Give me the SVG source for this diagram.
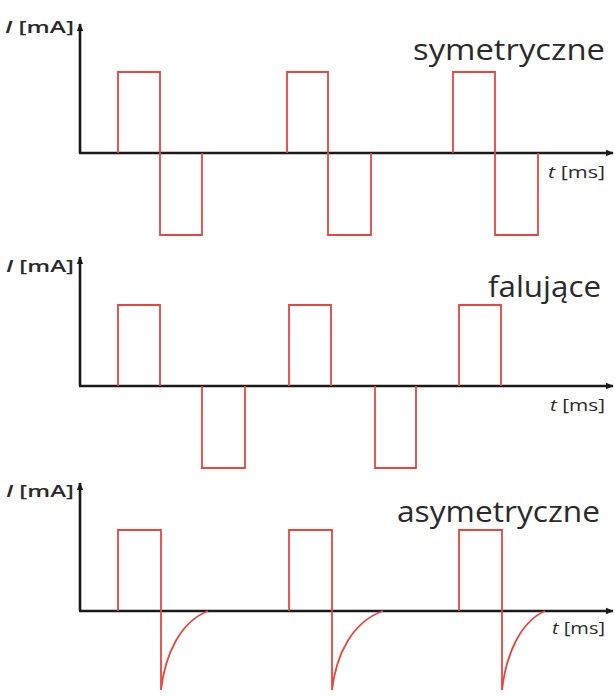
<svg xmlns="http://www.w3.org/2000/svg" width="615" height="697" viewBox="0 0 615 697">
<style>
.ax{stroke:#1a1a1a;stroke-width:2.6;fill:none}
.sig{stroke:#e8463e;stroke-width:1.8;fill:none;stroke-linejoin:miter}
.lbl{font-family:"Open Sans","DejaVu Sans",sans-serif;fill:#2a2a2a}
.title{font-size:29px}
.unit{font-size:17px}
.ya{font-size:17px;font-weight:600}
</style>
<defs>
<marker id="ah" viewBox="0 0 10 10" refX="9" refY="5" markerWidth="3.2" markerHeight="3.2" orient="auto" markerUnits="strokeWidth">
<path d="M0,1 L10,5 L0,9 z" fill="#1a1a1a"/>
</marker>
</defs>
<rect width="615" height="697" fill="#ffffff"/>

<g id="panel-symetryczne">
<g id="axes1">
<path class="ax" d="M80,153 V24" marker-end="url(#ah)"/>
<path class="ax" d="M79,153 H613" marker-end="url(#ah)"/>
</g>
<g id="signal1">
<path class="sig" d="M118,153 V72 H160 V235 H202 V153"/>
<path class="sig" d="M287,153 V72 H328 V235 H371 V153"/>
<path class="sig" d="M453,153 V72 H495 V235 H538 V153"/>
</g>
<text class="lbl ya" x="5" y="33" textLength="69" lengthAdjust="spacingAndGlyphs"><tspan font-style="italic">I</tspan> [mA]</text>
<text class="lbl title" x="413" y="60" textLength="192" lengthAdjust="spacingAndGlyphs">symetryczne</text>
<text class="lbl unit" x="548" y="178" textLength="57" lengthAdjust="spacingAndGlyphs"><tspan font-style="italic">t</tspan> [ms]</text>
</g>

<g id="panel-falujace">
<g id="axes2">
<path class="ax" d="M80,386 V257" marker-end="url(#ah)"/>
<path class="ax" d="M79,386 H613" marker-end="url(#ah)"/>
</g>
<g id="signal2">
<path class="sig" d="M118,386 V305 H160 V386"/>
<path class="sig" d="M202,386 V468 H245 V386"/>
<path class="sig" d="M289,386 V305 H331 V386"/>
<path class="sig" d="M375,386 V468 H416 V386"/>
<path class="sig" d="M459,386 V305 H501 V386"/>
</g>
<text class="lbl ya" x="6" y="272" textLength="68" lengthAdjust="spacingAndGlyphs"><tspan font-style="italic">I</tspan> [mA]</text>
<text class="lbl title" x="488" y="297" textLength="113" lengthAdjust="spacingAndGlyphs">falujące</text>
<text class="lbl unit" x="550" y="411" textLength="55" lengthAdjust="spacingAndGlyphs"><tspan font-style="italic">t</tspan> [ms]</text>
</g>

<g id="panel-asymetryczne">
<g id="axes3">
<path class="ax" d="M80,611 V483" marker-end="url(#ah)"/>
<path class="ax" d="M79,611 H613" marker-end="url(#ah)"/>
</g>
<g id="signal3">
<path class="sig" d="M118,611 V530 H161 V690 C165,655 180,622 208,611"/>
<path class="sig" d="M289,611 V530 H332 V690 C336,655 352,622 383,611"/>
<path class="sig" d="M459,611 V530 H502 V690 C506,655 520,622 545,611"/>
</g>
<text class="lbl ya" x="6" y="497" textLength="68" lengthAdjust="spacingAndGlyphs"><tspan font-style="italic">I</tspan> [mA]</text>
<text class="lbl title" x="397" y="522" textLength="203" lengthAdjust="spacingAndGlyphs">asymetryczne</text>
<text class="lbl unit" x="552" y="634" textLength="53" lengthAdjust="spacingAndGlyphs"><tspan font-style="italic">t</tspan> [ms]</text>
</g>
</svg>
